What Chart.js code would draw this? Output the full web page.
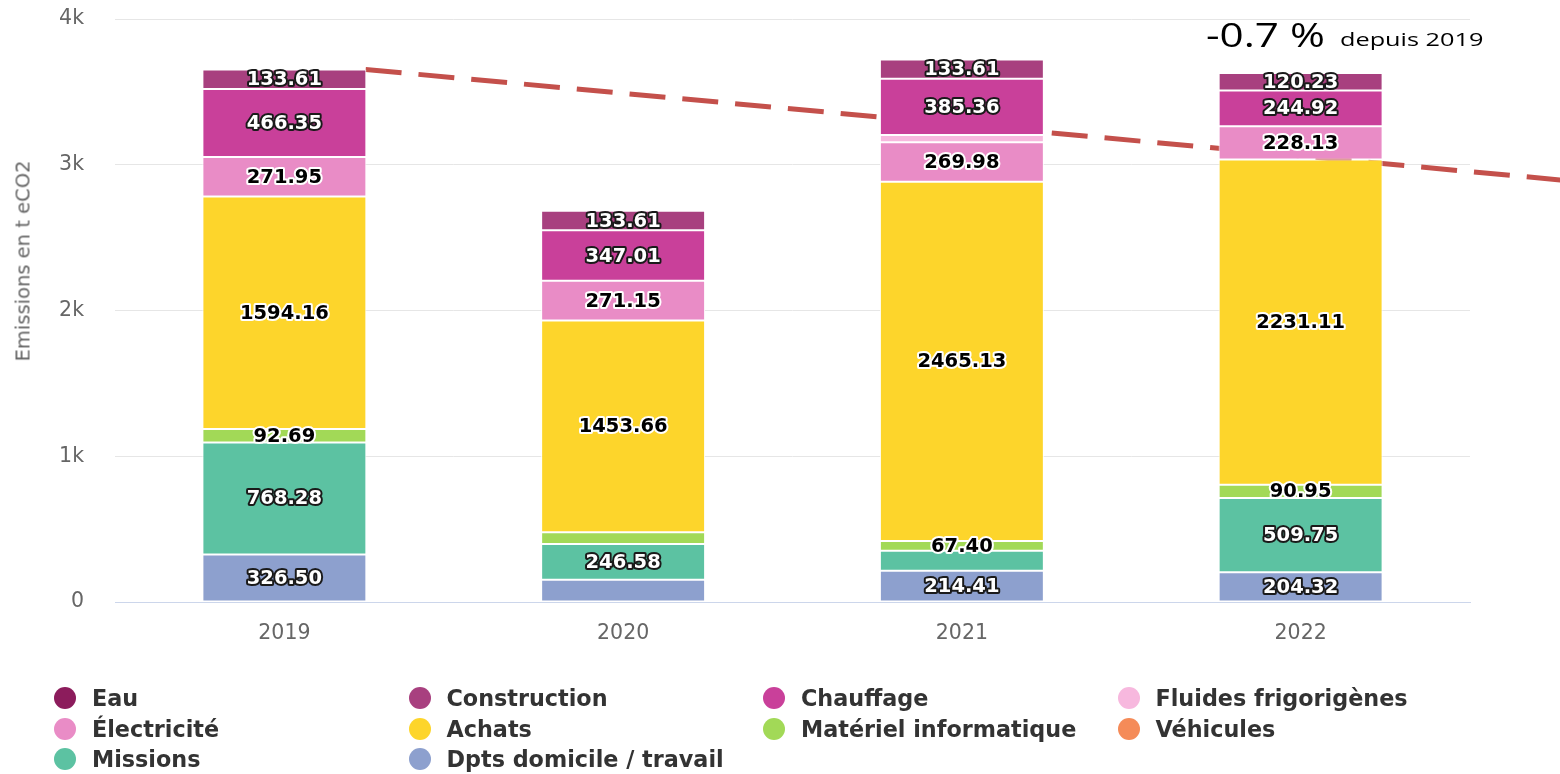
<!DOCTYPE html>
<html lang="fr">
<head>
<meta charset="utf-8">
<title>Emissions en t eCO2</title>
<script src="https://cdn.jsdelivr.net/npm/chart.js@4/dist/chart.umd.min.js"></script>
<style>
  html, body { margin: 0; padding: 0; background: #ffffff; }
  #wrap { position: relative; width: 1560px; height: 774px; overflow: hidden; }
  #chart { position: absolute; left: 0; top: 0; }
  #ytitle {
    position: absolute; left: 23px; top: 261px;
    transform: translate(-50%, -50%) rotate(-90deg);
    font: 19.5px "DejaVu Sans", sans-serif; color: #666666; white-space: nowrap;
  }
  .delta {
    position: absolute; white-space: nowrap;
    font-family: "Open Sans", sans-serif; color: #000000;
    transform-origin: 0 0;
  }
  #deltaValue { left: 1206px; top: 18px; font-size: 33px; line-height: 33px; transform: scaleX(1.28); }
  #deltaSince { left: 1340px; top: 30px; font-size: 19px; line-height: 19px; transform: scaleX(1.33); }
  #legend {
    position: absolute; left: 54px; top: 683px;
    display: grid; grid-template-columns: repeat(4, 354.5px); grid-auto-rows: 30.5px;
    font: bold 22.3px "DejaVu Sans", sans-serif; color: #333333;
  }
  #legend .item { display: flex; align-items: center; white-space: nowrap; }
  #legend .dot { width: 22px; height: 22px; border-radius: 50%; margin-right: 16px; flex: none; }
</style>
</head>
<body>
<div id="wrap">
  <canvas id="chart" width="1560" height="774"></canvas>
  <div id="ytitle">Emissions en t eCO2</div>
  <div class="delta" id="deltaValue">-0.7 %</div>
  <div class="delta" id="deltaSince">depuis 2019</div>
  <div id="legend"></div>
</div>
<script>
// Years on the x axis
const years = ['2019', '2020', '2021', '2022'];

// Emissions per category (t eCO2), one value per year
const dptsDomicile = [326.50, 152, 214.41, 204.32];
const missions     = [768.28, 246.58, 137, 509.75];
const vehicules    = [null, null, null, null];
const materiel     = [92.69, 80, 67.40, 90.95];
const achats       = [1594.16, 1453.66, 2465.13, 2231.11];
const electricite  = [271.95, 271.15, 269.98, 228.13];
const fluides      = [null, null, 50, null];
const chauffage    = [466.35, 347.01, 385.36, 244.92];
const construction = [133.61, 133.61, 133.61, 120.23];
const eau          = [null, null, null, null];

// Years whose value label is left off for a series (too cramped)
const dptsUnlabeled = ['2020'];
const missionsUnlabeled = ['2021'];
const materielUnlabeled = ['2020'];
const fluidesUnlabeled = ['2021'];

// Y axis tick labels (0 .. 4000 by 1000)
const yTickLabels = ['0', '1k', '2k', '3k', '4k'];

// Dashed trend from the 2019 total, in (category index, t eCO2)
const trendX = [0.24, 3.77];
const trendY = [3653.54, 2895];

const LIGHT_TEXT = { labelColor: '#ffffff', labelOutline: '#1a1a1a' };
const DARK_TEXT  = { labelColor: '#000000', labelOutline: '#ffffff' };

// Stack order: first dataset sits at the bottom of each bar
const datasets = [
  { label: 'Dpts domicile / travail', data: dptsDomicile, backgroundColor: '#8da0ce', unlabeled: dptsUnlabeled, ...LIGHT_TEXT },
  { label: 'Missions', data: missions, backgroundColor: '#5cc2a2', unlabeled: missionsUnlabeled, ...LIGHT_TEXT },
  { label: 'Véhicules', data: vehicules, backgroundColor: '#f58b58', ...DARK_TEXT },
  { label: 'Matériel informatique', data: materiel, backgroundColor: '#a2d957', unlabeled: materielUnlabeled, ...DARK_TEXT },
  { label: 'Achats', data: achats, backgroundColor: '#fdd52b', ...DARK_TEXT },
  { label: 'Électricité', data: electricite, backgroundColor: '#e98cc6', ...DARK_TEXT },
  { label: 'Fluides frigorigènes', data: fluides, backgroundColor: '#f7b8de', unlabeled: fluidesUnlabeled, ...DARK_TEXT },
  { label: 'Chauffage', data: chauffage, backgroundColor: '#c9409a', ...LIGHT_TEXT },
  { label: 'Construction', data: construction, backgroundColor: '#a8407f', ...LIGHT_TEXT },
  { label: 'Eau', data: eau, backgroundColor: '#8c1c5c', ...LIGHT_TEXT }
].map(d => Object.assign({
  borderColor: '#ffffff',
  borderWidth: 1,
  borderSkipped: false,
  categoryPercentage: 0.484,
  barPercentage: 1
}, d));

// Value written in the middle of each segment, outlined for contrast
const segmentLabels = {
  id: 'segmentLabels',
  afterDatasetsDraw(chart) {
    const ctx = chart.ctx;
    ctx.save();
    ctx.font = 'bold 19.5px "DejaVu Sans", sans-serif';
    ctx.textAlign = 'center';
    ctx.textBaseline = 'middle';
    ctx.lineJoin = 'round';
    chart.data.datasets.forEach((ds, di) => {
      const meta = chart.getDatasetMeta(di);
      meta.data.forEach((bar, i) => {
        const v = ds.data[i];
        if (v === null || v === undefined) return;
        if ((ds.unlabeled || []).includes(chart.data.labels[i])) return;
        const text = v.toFixed(2);
        const y = (bar.y + bar.base) / 2 + 1;
        ctx.lineWidth = 4;
        ctx.strokeStyle = ds.labelOutline;
        ctx.strokeText(text, bar.x, y);
        ctx.fillStyle = ds.labelColor;
        ctx.fillText(text, bar.x, y);
      });
    });
    ctx.restore();
  }
};

// Dashed trend line, drawn behind the bars
const trendLine = {
  id: 'trendLine',
  beforeDatasetsDraw(chart) {
    const { ctx, scales: { x, y } } = chart;
    ctx.save();
    ctx.strokeStyle = '#c4504b';
    ctx.lineWidth = 5;
    ctx.setLineDash([36, 17]);
    ctx.beginPath();
    ctx.moveTo(x.getPixelForValue(trendX[0]), y.getPixelForValue(trendY[0]));
    ctx.lineTo(x.getPixelForValue(trendX[1]), y.getPixelForValue(trendY[1]));
    ctx.stroke();
    ctx.restore();
  }
};

const chart = new Chart(document.getElementById('chart'), {
  type: 'bar',
  data: { labels: years, datasets },
  plugins: [trendLine, segmentLabels],
  options: {
    responsive: false,
    animation: false,
    devicePixelRatio: 1,
    layout: { padding: { top: 19, right: 90, bottom: 0, left: 0 } },
    plugins: { legend: { display: false }, tooltip: { enabled: false } },
    scales: {
      x: {
        stacked: true,
        afterFit: s => { s.height = 172; },
        grid: { display: false, drawTicks: false },
        border: { display: true, color: '#ccd6eb', width: 1 },
        ticks: { padding: 19, color: '#666666', font: { family: 'DejaVu Sans', size: 20.5 } }
      },
      y: {
        stacked: true,
        min: 0,
        max: 4000,
        afterFit: s => { s.width = 115; s.paddingTop = 0; s.paddingBottom = 0; },
        grid: {
          drawTicks: false,
          color: c => (c.tick && c.tick.value === 0 ? 'rgba(0,0,0,0)' : '#e6e6e6')
        },
        border: { display: false },
        ticks: {
          stepSize: 1000,
          padding: 31,
          color: '#666666',
          font: { family: 'DejaVu Sans', size: 20.5 },
          callback: (v, i) => yTickLabels[i]
        }
      }
    }
  }
});

// Legend in four fixed columns, top series first
const legend = document.getElementById('legend');
datasets.slice().reverse().forEach(ds => {
  const item = document.createElement('div');
  item.className = 'item';
  const dot = document.createElement('span');
  dot.className = 'dot';
  dot.style.background = ds.backgroundColor;
  item.appendChild(dot);
  item.appendChild(document.createTextNode(ds.label));
  legend.appendChild(item);
});
</script>
</body>
</html>
